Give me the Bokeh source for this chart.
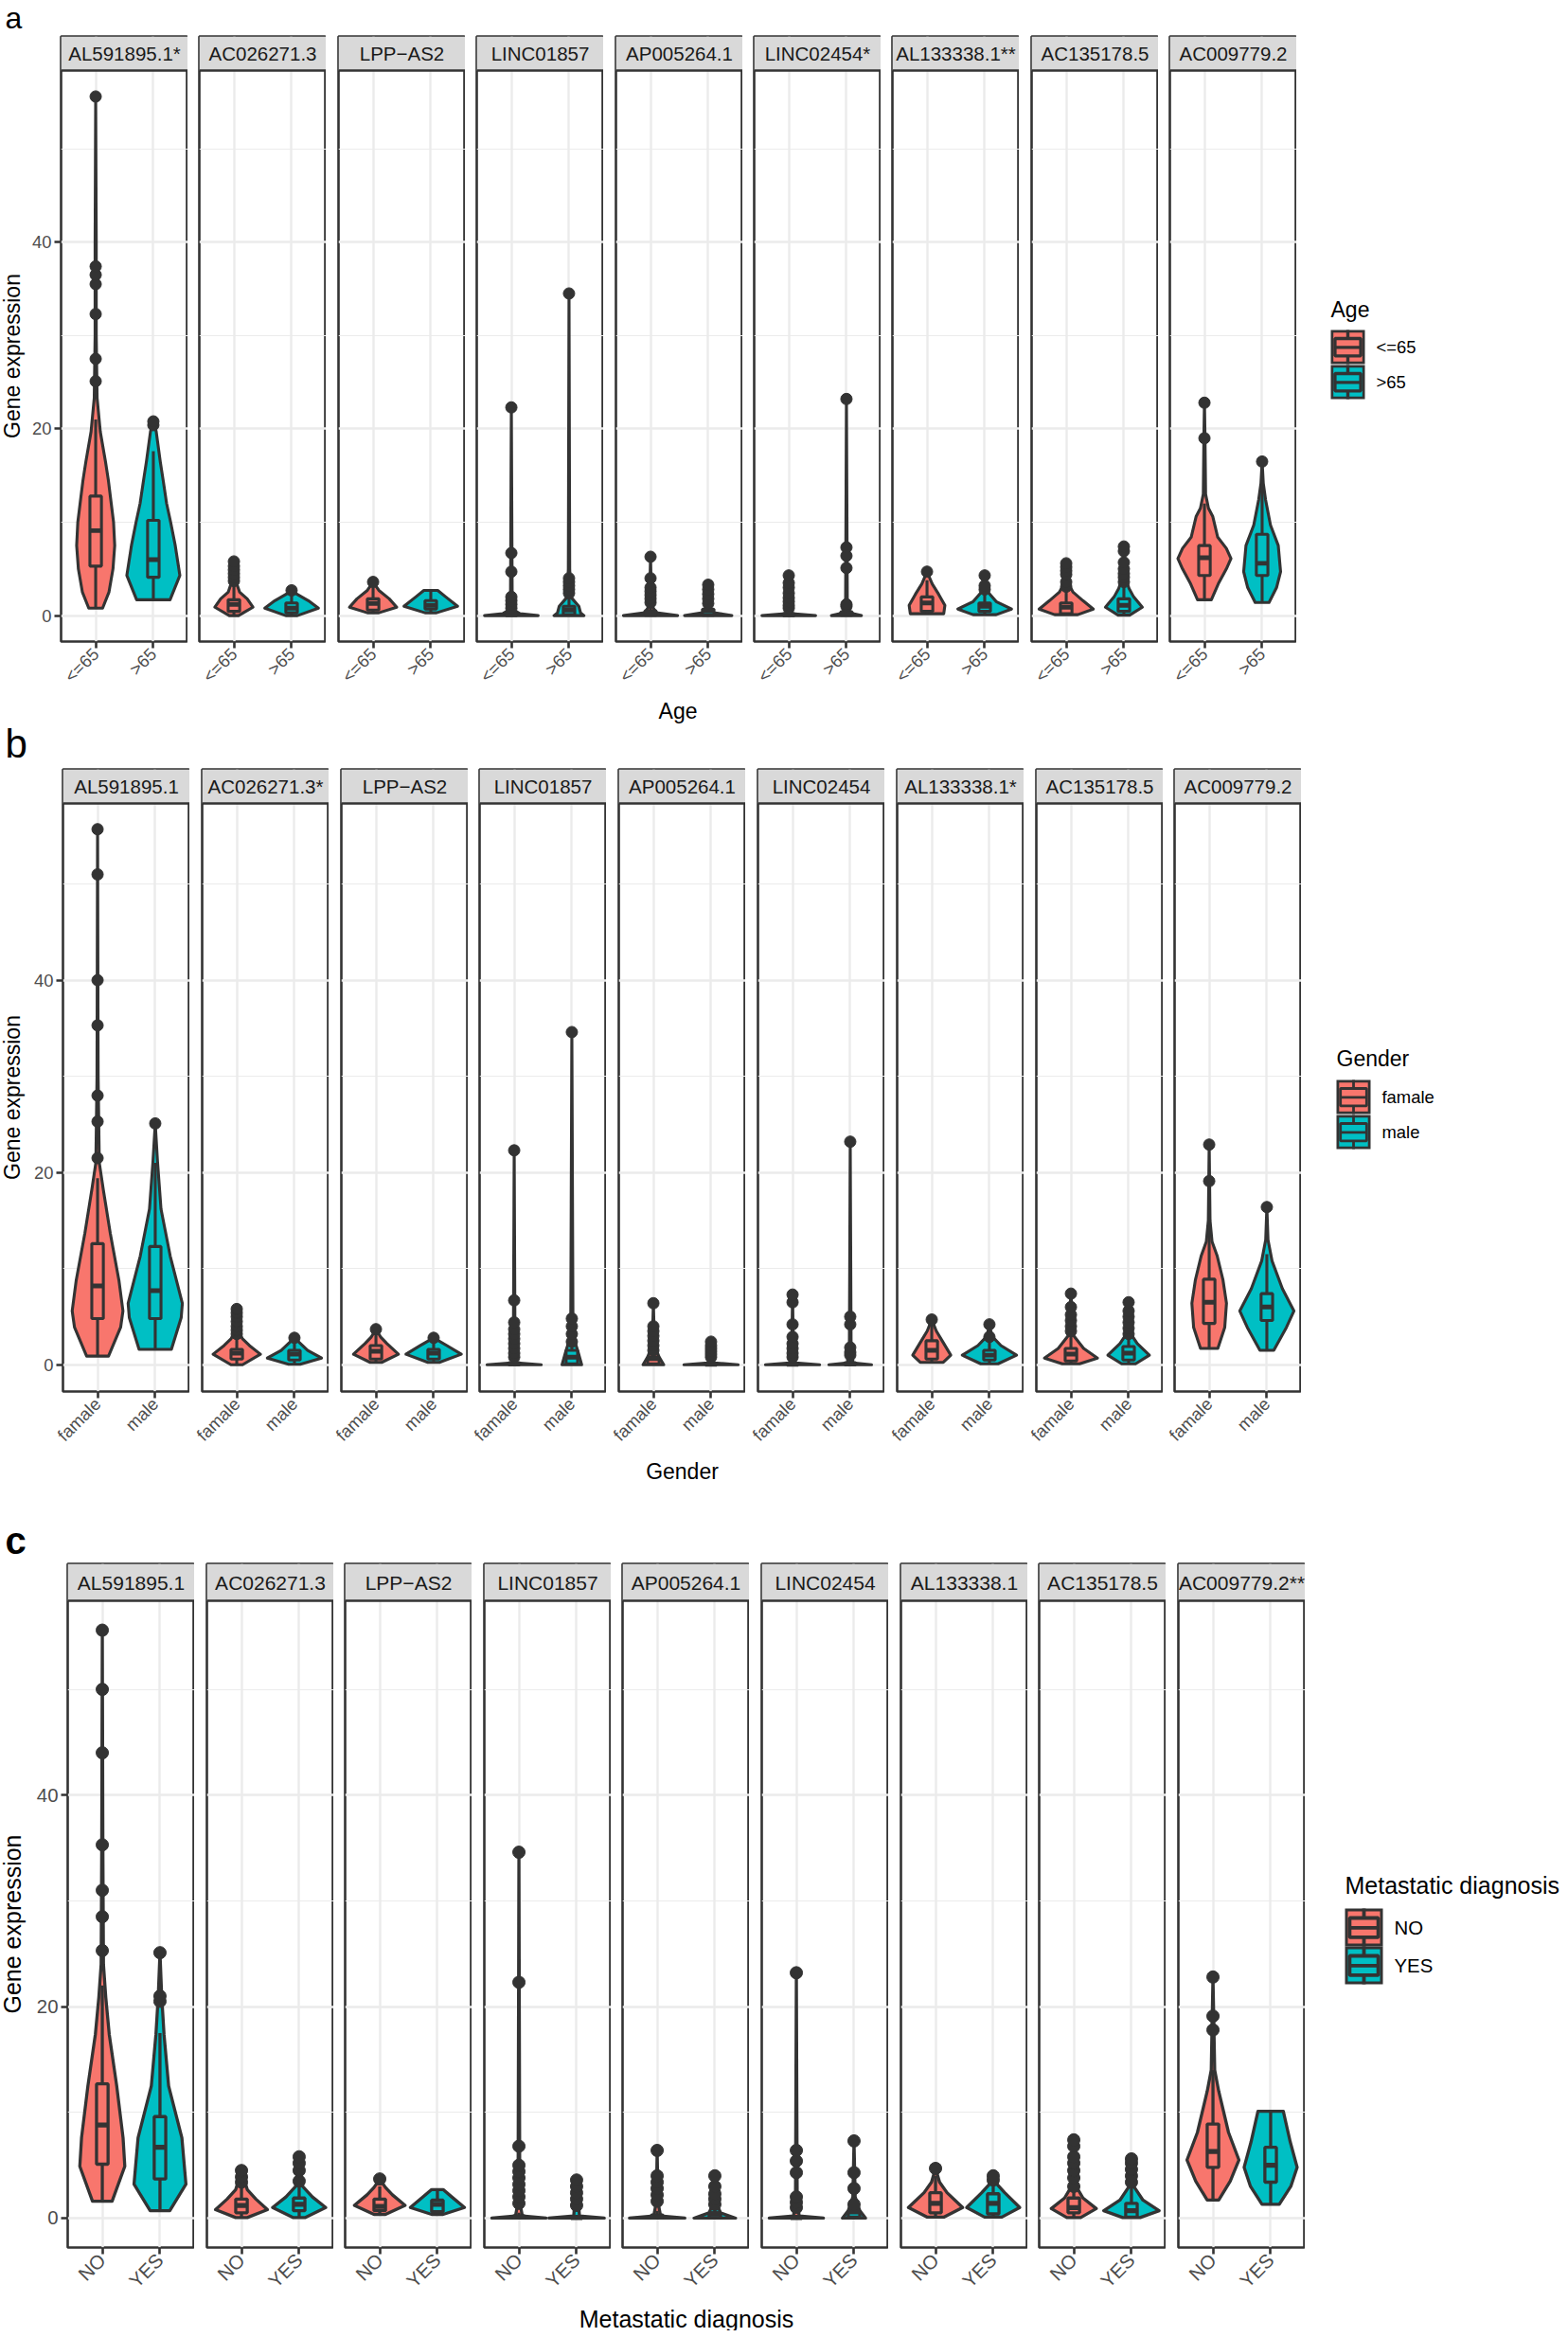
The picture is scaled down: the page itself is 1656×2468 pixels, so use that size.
import math
from bokeh.plotting import figure
from bokeh.layouts import row, column
from bokeh.models import Range1d, FixedTicker
from bokeh.core.properties import value
from bokeh.embed import file_html
from bokeh.resources import INLINE

FONT = "Liberation Sans"
COLORS = ["#F8766D", "#00BFC4"]
DARK = "#333333"
GRID = "#EBEBEB"
STRIP_FILL = "#D9D9D9"

Y_MIN, Y_MAX = -2.78, 58.38
Y_TICKS = [0, 20, 40]
Y_MINOR = [10, 30, 50]
X_POS = [1, 2]
BOX_HALF = 0.1

# ---------------- panel a : Age ----------------
AGE_GENES = ["AL591895.1*", "AC026271.3", "LPP\u2212AS2", "LINC01857", "AP005264.1",
             "LINC02454*", "AL133338.1**", "AC135178.5", "AC009779.2"]
AGE_GROUPS = ["<=65", ">65"]
AGE_VIOLIN_Y = [
    [[0.8, 2.5, 5, 7.5, 10, 12, 14.5, 16.5, 19.7, 23.3, 30, 40, 55.6], [1.7, 4.3, 7.5, 10, 12, 14.5, 16.5, 19.7, 21.0]],
    [[0.0, 0.9, 1.8, 2.5, 3.4, 5.8], [0.0, 0.8, 1.6, 2.3, 2.7]],
    [[0.3, 0.9, 1.8, 2.7, 3.6], [0.3, 1.0, 2.0, 2.7]],
    [[0.0, 0.2, 0.6, 1.5, 22.3], [0.0, 0.3, 1.0, 2.0, 5.0, 34.5]],
    [[0.0, 0.3, 1.0, 3.0, 6.3], [0.0, 0.3, 1.0, 3.3]],
    [[0.0, 0.2, 1.0, 4.3], [0.0, 0.3, 1.5, 23.2]],
    [[0.2, 1.1, 2.3, 3.4, 4.7], [0.1, 0.7, 1.5, 2.5, 3.4, 4.3]],
    [[0.1, 0.7, 1.6, 2.5, 3.5, 5.6], [0.05, 0.9, 2.0, 2.9, 4.0, 7.4]],
    [[1.7, 3.4, 5.0, 6.1, 7.2, 8.4, 10.6, 11.5, 13, 19, 22.8], [1.4, 3.0, 4.7, 7.5, 9.7, 12.4, 14.2, 16.5]],
]
AGE_VIOLIN_W = [
    [[0.12, 0.23, 0.3, 0.33, 0.31, 0.27, 0.22, 0.17, 0.08, 0.025, 0.01, 0.01, 0], [0.29, 0.46, 0.38, 0.3, 0.23, 0.17, 0.12, 0.05, 0]],
    [[0.08, 0.33, 0.23, 0.1, 0.05, 0], [0.1, 0.465, 0.29, 0.09, 0]],
    [[0.1, 0.41, 0.28, 0.1, 0], [0.1, 0.465, 0.26, 0.12]],
    [[0.465, 0.15, 0.04, 0.015, 0], [0.26, 0.2, 0.17, 0.03, 0.012, 0]],
    [[0.47, 0.1, 0.03, 0.012, 0], [0.41, 0.1, 0.03, 0]],
    [[0.465, 0.06, 0.02, 0], [0.26, 0.06, 0.015, 0]],
    [[0.29, 0.31, 0.2, 0.09, 0], [0.2, 0.465, 0.2, 0.06, 0.02, 0]],
    [[0.2, 0.47, 0.29, 0.12, 0.03, 0], [0.1, 0.32, 0.17, 0.09, 0.03, 0]],
    [[0.12, 0.24, 0.38, 0.46, 0.38, 0.23, 0.145, 0.07, 0.02, 0.01, 0], [0.12, 0.25, 0.32, 0.28, 0.145, 0.06, 0.02, 0]],
]
AGE_BOX = [  # [lower whisker, q1, median, q3, upper whisker]
    [[0.8, 5.3, 9.1, 12.8, 21.0], [1.7, 4.1, 6.0, 10.2, 17.6]],
    [[0.05, 0.45, 1.2, 1.7, 3.4], [0.05, 0.3, 0.8, 1.35, 2.2]],
    [[0.3, 0.6, 1.3, 1.8, 3.0], [0.3, 0.7, 1.1, 1.6, 2.7]],
    [[0.0, 0.05, 0.12, 0.3, 0.6], [0.0, 0.1, 0.6, 1.0, 2.2]],
    [[0.0, 0.05, 0.3, 0.5, 1.0], [0.0, 0.05, 0.5, 0.7, 1.1]],
    [[0.0, 0.02, 0.1, 0.2, 0.5], [0.0, 0.03, 0.2, 0.4, 0.8]],
    [[0.2, 0.45, 1.35, 2.0, 3.8], [0.1, 0.45, 1.0, 1.35, 2.5]],
    [[0.1, 0.2, 0.9, 1.35, 2.9], [0.05, 0.45, 1.1, 1.8, 3.3]],
    [[1.7, 4.3, 6.2, 7.5, 12.0], [1.4, 4.3, 5.6, 8.7, 14.5]],
]
AGE_OUTLIERS = [
    [[25.1, 27.5, 32.3, 35.5, 36.5, 37.4, 55.6], [20.4, 20.8]],
    [[3.7, 4.1, 4.5, 4.9, 5.3, 5.8], [2.7]],
    [[3.6], []],
    [[0.8, 1.2, 1.6, 2.0, 4.7, 6.7, 22.3], [2.4, 2.8, 3.2, 3.6, 4.0, 34.5]],
    [[1.4, 1.8, 2.2, 2.6, 3.0, 4.0, 6.3], [1.3, 1.8, 2.3, 2.8, 3.3]],
    [[0.8, 1.1, 1.5, 1.9, 2.4, 3.0, 3.5, 4.3], [1.0, 1.2, 5.1, 6.4, 7.3, 23.2]],
    [[4.7], [2.8, 3.2, 4.3]],
    [[3.1, 3.6, 4.4, 4.8, 5.2, 5.6], [3.6, 4.1, 4.5, 5.0, 5.7, 6.9, 7.4]],
    [[19.0, 22.8], [16.5]],
]

# ---------------- panel b : Gender ----------------
GENDER_GENES = ["AL591895.1", "AC026271.3*", "LPP\u2212AS2", "LINC01857", "AP005264.1",
                "LINC02454", "AL133338.1*", "AC135178.5", "AC009779.2"]
GENDER_GROUPS = ["famale", "male"]
GENDER_VIOLIN_Y = [
    [[0.9, 3.9, 5.6, 8.8, 13.7, 18.2, 21, 30, 55.7], [1.6, 4.9, 6.4, 11.3, 16.2, 21.1, 25.1]],
    [[0.0, 1.1, 2.0, 2.7, 3.5, 5.8], [0.05, 0.7, 1.5, 2.8]],
    [[0.25, 1.1, 2.2, 2.9, 3.7], [0.25, 1.1, 2.0, 2.8]],
    [[0.0, 0.2, 1.0, 22.3], [0.0, 1.5, 3.0, 34.6]],
    [[0.0, 0.8, 2.0, 6.4], [0.0, 0.2, 2.4]],
    [[0.0, 0.2, 1.5, 7.3], [0.0, 0.2, 2.0, 23.2]],
    [[0.25, 1.0, 2.5, 3.5, 4.7], [0.1, 1.0, 2.0, 3.0, 4.2]],
    [[0.1, 0.7, 1.7, 3.0, 7.4], [0.1, 1.0, 2.2, 3.2, 6.5]],
    [[1.7, 3.9, 6.4, 8.8, 11.3, 12.8, 15, 22.9], [1.5, 3.9, 5.6, 7.9, 10.8, 13, 16.4]],
]
GENDER_VIOLIN_W = [
    [[0.19, 0.4, 0.44, 0.37, 0.22, 0.1, 0.03, 0.01, 0], [0.28, 0.45, 0.47, 0.26, 0.1, 0.04, 0]],
    [[0.1, 0.41, 0.22, 0.1, 0.03, 0], [0.1, 0.47, 0.23, 0]],
    [[0.1, 0.39, 0.19, 0.08, 0], [0.1, 0.48, 0.23, 0]],
    [[0.47, 0.05, 0.015, 0], [0.17, 0.1, 0.02, 0]],
    [[0.18, 0.1, 0.02, 0], [0.47, 0.05, 0]],
    [[0.47, 0.05, 0.015, 0], [0.37, 0.05, 0.015, 0]],
    [[0.2, 0.33, 0.18, 0.08, 0], [0.15, 0.47, 0.2, 0.04, 0]],
    [[0.15, 0.46, 0.22, 0.05, 0], [0.12, 0.36, 0.15, 0.04, 0]],
    [[0.15, 0.27, 0.3, 0.24, 0.14, 0.05, 0.015, 0], [0.12, 0.34, 0.47, 0.27, 0.09, 0.02, 0]],
]
GENDER_BOX = [
    [[0.9, 4.8, 8.2, 12.6, 19.4], [1.6, 4.8, 7.7, 12.3, 21.0]],
    [[0.0, 0.6, 1.2, 1.6, 2.9], [0.05, 0.5, 1.1, 1.5, 2.3]],
    [[0.25, 0.6, 1.4, 2.0, 3.2], [0.25, 0.6, 1.2, 1.6, 2.5]],
    [[0.0, 0.02, 0.1, 0.2, 0.5], [0.0, 0.1, 0.8, 1.5, 2.0]],
    [[0.0, 0.1, 0.64, 0.8, 1.3], [0.0, 0.02, 0.05, 0.1, 0.3]],
    [[0.0, 0.02, 0.05, 0.1, 0.3], [0.0, 0.02, 0.1, 0.2, 0.5]],
    [[0.25, 0.6, 1.5, 2.5, 4.2], [0.1, 0.5, 1.0, 1.5, 2.6]],
    [[0.1, 0.4, 1.1, 1.7, 3.2], [0.1, 0.5, 1.2, 1.9, 3.0]],
    [[1.7, 4.3, 6.5, 8.9, 15.0], [1.5, 4.6, 6.0, 7.4, 11.5]],
]
GENDER_OUTLIERS = [
    [[21.5, 25.3, 28.0, 35.3, 40.0, 51.0, 55.7], [25.1]],
    [[3.2, 3.6, 4.0, 4.5, 5.0, 5.4, 5.8], [2.8]],
    [[3.7], [2.8]],
    [[0.8, 1.2, 1.7, 2.2, 2.7, 3.2, 3.7, 4.4, 6.7, 22.3], [2.4, 3.2, 4.0, 4.8, 34.6]],
    [[1.5, 2.0, 2.5, 3.0, 3.5, 4.0, 6.4], [0.8, 1.1, 1.4, 1.7, 2.0, 2.4]],
    [[0.8, 1.2, 1.7, 2.2, 2.9, 4.2, 6.5, 7.3], [1.0, 1.3, 1.8, 4.2, 5.0, 23.2]],
    [[4.7], [2.9, 4.2]],
    [[3.5, 4.0, 4.6, 5.2, 6.0, 7.4], [3.2, 3.8, 4.4, 5.0, 5.6, 6.5]],
    [[19.1, 22.9], [16.4]],
]

# ---------------- panel c : Metastatic diagnosis ----------------
META_GENES = ["AL591895.1", "AC026271.3", "LPP\u2212AS2", "LINC01857", "AP005264.1",
              "LINC02454", "AL133338.1", "AC135178.5", "AC009779.2**"]
META_GROUPS = ["NO", "YES"]
META_VIOLIN_Y = [
    [[1.6, 4.9, 7.6, 12.5, 17.4, 20.9, 24, 35, 55.6], [0.7, 3.2, 7.6, 12.5, 17.4, 21, 25.1]],
    [[0.05, 0.8, 1.8, 2.7, 4.5], [0.05, 1.0, 2.0, 3.0, 5.8]],
    [[0.35, 1.2, 2.2, 2.9, 3.7], [0.35, 1.0, 2.0, 2.7]],
    [[0.0, 0.2, 1.5, 34.6], [0.0, 0.2, 3.6]],
    [[0.0, 0.2, 1.5, 6.4], [0.0, 0.5, 1.5, 4.0]],
    [[0.0, 0.2, 1.5, 23.2], [0.0, 0.7, 2.0, 7.3]],
    [[0.1, 1.0, 2.4, 3.4, 4.7], [0.1, 1.0, 2.4, 3.3, 4.0]],
    [[0.05, 0.9, 1.9, 3.0, 7.4], [0.05, 0.7, 1.7, 3.0, 5.6]],
    [[1.7, 3.5, 5.5, 8.1, 12.0, 14, 22.8], [1.3, 3.0, 4.8, 7.2, 10.1]],
]
META_VIOLIN_W = [
    [[0.17, 0.39, 0.36, 0.25, 0.12, 0.06, 0.02, 0.01, 0], [0.17, 0.45, 0.38, 0.15, 0.07, 0.03, 0]],
    [[0.1, 0.45, 0.25, 0.1, 0], [0.1, 0.46, 0.23, 0.06, 0]],
    [[0.1, 0.44, 0.22, 0.1, 0], [0.1, 0.47, 0.25, 0.1]],
    [[0.47, 0.06, 0.015, 0], [0.48, 0.05, 0]],
    [[0.48, 0.06, 0.015, 0], [0.36, 0.1, 0.02, 0]],
    [[0.47, 0.05, 0.015, 0], [0.2, 0.1, 0.02, 0]],
    [[0.15, 0.47, 0.2, 0.07, 0], [0.15, 0.46, 0.2, 0.05, 0]],
    [[0.12, 0.39, 0.16, 0.04, 0], [0.15, 0.48, 0.2, 0.04, 0]],
    [[0.1, 0.3, 0.45, 0.27, 0.1, 0.03, 0], [0.15, 0.35, 0.46, 0.34, 0.22]],
]
META_BOX = [
    [[1.6, 5.1, 8.8, 12.7, 22.0], [0.7, 3.7, 6.7, 9.6, 17.5]],
    [[0.05, 0.5, 1.2, 1.8, 3.2], [0.05, 0.7, 1.3, 1.9, 3.0]],
    [[0.35, 0.7, 1.1, 1.8, 3.0], [0.35, 0.6, 1.3, 1.7, 2.7]],
    [[0.0, 0.02, 0.1, 0.2, 0.5], [0.0, 0.02, 0.05, 0.1, 0.3]],
    [[0.0, 0.02, 0.1, 0.3, 0.7], [0.0, 0.05, 0.4, 0.5, 1.0]],
    [[0.0, 0.02, 0.05, 0.1, 0.3], [0.0, 0.1, 0.6, 0.7, 1.0]],
    [[0.1, 0.5, 1.4, 2.4, 4.0], [0.1, 0.4, 1.4, 2.3, 3.3]],
    [[0.05, 0.5, 1.0, 1.9, 2.8], [0.05, 0.1, 0.7, 1.4, 3.0]],
    [[1.7, 4.8, 6.3, 8.9, 14.0], [1.3, 3.4, 5.0, 6.7, 10.1]],
]
META_OUTLIERS = [
    [[25.3, 28.5, 31.0, 35.3, 44.0, 50.0, 55.6], [20.5, 21.0, 25.1]],
    [[3.4, 3.9, 4.5], [3.5, 4.5, 5.2, 5.8]],
    [[3.7], []],
    [[1.4, 2.0, 2.6, 3.2, 3.8, 4.4, 5.0, 6.8, 22.3, 34.6], [1.2, 1.8, 2.4, 3.0, 3.6]],
    [[1.6, 2.2, 2.8, 3.4, 4.0, 6.4], [1.3, 1.8, 2.3, 3.0, 4.0]],
    [[1.0, 1.5, 2.0, 4.3, 5.4, 6.4, 23.2], [1.3, 2.8, 4.3, 7.3]],
    [[4.7], [3.6, 4.0]],
    [[3.0, 3.8, 4.5, 5.2, 5.8, 6.8, 7.4], [3.4, 4.0, 4.6, 5.2, 5.6]],
    [[17.8, 19.1, 22.8], []],
]

# ---------------- layout settings (pixels) ----------------
# page = header("a") / row a / footer (Age + "b") / row b / footer (Gender + "c") / row c / footer
HEADER_H = 36
CFG_A = dict(top=2, fh=639, strip=36, bottom=60, foot=73, foot_y=13, side=31, x0=63.0, pitch=146.4,
             fw=134, total=1650, fs_text=18.4, fs_strip=20.5, fs_title=23, lw=3.1, pt=12,
             leg_x=36, leg_title_y=326, leg_keys=[348, 385], key_s=36, key_tb=2.7,
             key_t=3.4, leg_lab_x=84, title="Age",
             next_letter="b", next_size=42, next_style="normal", next_mid_from_bottom=25)
CFG_B = dict(top=2, fh=657, strip=36, bottom=72, foot=108, foot_y=12, side=31, x0=66.0, pitch=146.8,
             fw=134, total=1650, fs_text=18.4, fs_strip=20.5, fs_title=23, lw=3.1, pt=12,
             leg_x=37, leg_title_y=1117, leg_keys=[1140, 1177], key_s=36, key_tb=2.8,
             key_t=2.8, leg_lab_x=85, title="Gender",
             next_letter="c", next_size=40, next_style="bold", next_mid_from_bottom=23)
CFG_C = dict(top=2, fh=722, strip=39, bottom=62, foot=26, foot_y=13, side=31, x0=71.0, pitch=146.6,
             fw=134, total=1650, fs_text=20.4, fs_strip=21, fs_title=25, lw=3.3, pt=13,
             leg_x=42, leg_title_y=1990, leg_keys=[2015, 2055], key_s=40, key_tb=3.0,
             key_t=3.8, leg_lab_x=94, title="Metastatic diagnosis",
             next_letter=None, next_size=0, next_style="normal", next_mid_from_bottom=0)


def blank(width, height, y_range):
    f = figure(width=width, height=height, x_range=Range1d(0, width), y_range=y_range,
               x_axis_location=None, y_axis_location=None, min_border=0,
               min_border_left=0, min_border_right=0, min_border_top=0, min_border_bottom=0,
               output_backend="svg", toolbar_location=None)
    f.grid.visible = False
    f.outline_line_color = None
    return f


def letter(fig, txt, size, style, y_mid):
    fig.text(x=[5], y=[y_mid], text=[txt], text_font=value(FONT), text_font_size=f"{size}px",
             text_font_style=style, text_baseline="middle", text_align="left", text_color="black")


def facet(cfg, gene, groups, vy, vw, bx, outl, first, left_border):
    strip, fh = cfg["strip"], cfg["fh"]
    u = (Y_MAX - Y_MIN) / (fh - strip)
    ytop = Y_MAX + strip * u
    p = figure(frame_width=cfg["fw"], frame_height=fh,
               x_range=Range1d(0.4, 2.6), y_range=Range1d(Y_MIN, ytop),
               y_axis_location="left" if first else None,
               min_border_left=left_border, min_border_right=0,
               min_border_top=cfg["top"], min_border_bottom=cfg["bottom"],
               output_backend="svg", toolbar_location=None)
    p.outline_line_color = DARK
    p.outline_line_width = 2.6
    p.xgrid.ticker = FixedTicker(ticks=X_POS)
    p.xgrid.grid_line_color = GRID
    p.xgrid.grid_line_width = 2.4
    p.ygrid.ticker = FixedTicker(ticks=Y_TICKS, minor_ticks=Y_MINOR)
    p.ygrid.grid_line_color = GRID
    p.ygrid.grid_line_width = 2.4
    p.ygrid.minor_grid_line_color = GRID
    p.ygrid.minor_grid_line_width = 1.2

    lw = cfg["lw"]
    for k in range(2):
        c = X_POS[k]
        col = COLORS[k]
        ys, ws = vy[k], vw[k]
        px = [c + w for w in ws] + [c - w for w in reversed(ws)]
        py = list(ys) + list(reversed(ys))
        p.patch(px, py, fill_color=col, line_color=DARK, line_width=lw, line_join="round")
        lo, q1, md, q3, hi = bx[k]
        p.segment(x0=[c, c], y0=[lo, q3], x1=[c, c], y1=[q1, hi], line_color=DARK, line_width=lw)
        p.quad(left=[c - BOX_HALF], right=[c + BOX_HALF], bottom=[q1], top=[q3],
               fill_color=col, line_color=DARK, line_width=lw)
        p.segment(x0=[c - BOX_HALF], y0=[md], x1=[c + BOX_HALF], y1=[md], line_color=DARK,
                  line_width=lw * 1.6)
        if outl[k]:
            p.scatter(x=[c] * len(outl[k]), y=outl[k], size=cfg["pt"], fill_color=DARK, line_color=DARK)

    # strip
    p.quad(left=[0.4], right=[2.6], bottom=[Y_MAX], top=[ytop], fill_color=STRIP_FILL, line_color=None)
    p.segment(x0=[0.4], x1=[2.6], y0=[Y_MAX], y1=[Y_MAX], line_color=DARK, line_width=2.6)
    p.text(x=[1.5], y=[(Y_MAX + ytop) / 2], text=[gene], text_font=value(FONT),
           text_font_size=f"{cfg['fs_strip']}px", text_align="center", text_baseline="middle",
           text_color="#1A1A1A")

    xa = p.xaxis[0]
    xa.ticker = FixedTicker(ticks=X_POS)
    xa.major_label_overrides = {1: groups[0], 2: groups[1]}
    xa.axis_line_color = None
    xa.major_tick_line_color = DARK
    xa.major_tick_line_width = 2.6
    xa.major_tick_out = 7
    xa.major_tick_in = 0
    xa.minor_tick_line_color = None
    xa.major_label_text_font = FONT
    xa.major_label_text_font_size = f"{cfg['fs_text']}px"
    xa.major_label_text_color = "#4D4D4D"
    xa.major_label_orientation = math.pi / 4
    xa.major_label_standoff = 3
    if first:
        ya = p.yaxis[0]
        ya.ticker = FixedTicker(ticks=Y_TICKS)
        ya.axis_line_color = None
        ya.major_tick_line_color = DARK
        ya.major_tick_line_width = 2.6
        ya.major_tick_out = 7
        ya.major_tick_in = 0
        ya.minor_tick_line_color = None
        ya.major_label_text_font = FONT
        ya.major_label_text_font_size = f"{cfg['fs_text']}px"
        ya.major_label_text_color = "#4D4D4D"
        ya.major_label_standoff = 3
    return p


def frame_range(cfg):
    # frames of all plots in a row are aligned: map (negated) row pixels onto the frame
    return Range1d(-(cfg["top"] + cfg["fh"]), -cfg["top"])


def side_fig(cfg, H):
    s = blank(cfg["side"], H, frame_range(cfg))
    yc = cfg["top"] + cfg["strip"] + (cfg["fh"] - cfg["strip"]) / 2
    s.text(x=[12.5], y=[-yc], text=["Gene expression"], angle=math.pi / 2, text_font=value(FONT),
           text_font_size=f"{cfg['fs_title']}px", text_align="center", text_baseline="middle",
           text_color="black")
    return s


def legend_fig(cfg, W, H, groups, row_start):
    lg = blank(W, H, frame_range(cfg))
    x0 = cfg["leg_x"]
    lg.text(x=[x0], y=[-(cfg["leg_title_y"] - row_start)], text=[cfg["title"]], text_font=value(FONT),
            text_font_size=f"{cfg['fs_title']}px", text_align="left", text_baseline="middle",
            text_color="black")
    s, tb, t = cfg["key_s"], cfg["key_tb"], cfg["key_t"]
    for k, ypage in enumerate(cfg["leg_keys"]):
        ytop = ypage - row_start
        col = COLORS[k]
        lg.quad(left=[x0], right=[x0 + s], top=[-ytop], bottom=[-(ytop + s)], fill_color=DARK,
                line_color=None)
        lg.quad(left=[x0 + tb], right=[x0 + s - tb], top=[-(ytop + tb)], bottom=[-(ytop + s - tb)],
                fill_color=col, line_color=None)
        bl, br = x0 + tb + t / 2, x0 + s - tb - t / 2
        bt, bb, md = ytop + 0.25 * s, ytop + 0.76 * s, ytop + 0.51 * s
        lg.quad(left=[bl], right=[br], top=[-bt], bottom=[-bb], fill_color=None, line_color=DARK,
                line_width=t)
        cx = x0 + s / 2
        lg.segment(x0=[bl, cx, cx], x1=[br, cx, cx], y0=[-md, -ytop, -bb],
                   y1=[-md, -bt, -(ytop + s)], line_color=DARK, line_width=t)
        lg.text(x=[cfg["leg_lab_x"]], y=[-(ytop + s / 2)], text=[groups[k]], text_font=value(FONT),
                text_font_size=f"{cfg['fs_text']}px", text_align="left", text_baseline="middle",
                text_color="black")
    return lg


def build_row(cfg, genes, groups, VY, VW, BX, OUT, row_start):
    H = cfg["top"] + cfg["fh"] + cfg["bottom"]
    figs = [side_fig(cfg, H)]
    lefts = [round(cfg["x0"] + i * cfg["pitch"]) for i in range(9)]
    prev_right = cfg["side"]
    for i in range(9):
        border = lefts[i] - prev_right
        figs.append(facet(cfg, genes[i], groups, VY[i], VW[i], BX[i], OUT[i], i == 0, border))
        prev_right = lefts[i] + cfg["fw"]
    figs.append(legend_fig(cfg, cfg["total"] - prev_right, H, groups, row_start))
    ft = blank(prev_right, cfg["foot"], Range1d(0, cfg["foot"]))
    xc = (lefts[0] + prev_right) / 2
    ft.text(x=[xc], y=[cfg["foot"] - cfg["foot_y"]], text=[cfg["title"]], text_font=value(FONT),
            text_font_size=f"{cfg['fs_title']}px", text_align="center", text_baseline="middle",
            text_color="black")
    if cfg["next_letter"]:
        letter(ft, cfg["next_letter"], cfg["next_size"], cfg["next_style"], cfg["next_mid_from_bottom"])
    return [row(*figs), ft], row_start + H + cfg["foot"]


header = blank(200, HEADER_H, Range1d(0, HEADER_H))
letter(header, "a", 32, "normal", HEADER_H / 2)

parts_a, start_b = build_row(CFG_A, AGE_GENES, AGE_GROUPS, AGE_VIOLIN_Y, AGE_VIOLIN_W, AGE_BOX,
                             AGE_OUTLIERS, HEADER_H)
parts_b, start_c = build_row(CFG_B, GENDER_GENES, GENDER_GROUPS, GENDER_VIOLIN_Y, GENDER_VIOLIN_W,
                             GENDER_BOX, GENDER_OUTLIERS, start_b)
parts_c, _ = build_row(CFG_C, META_GENES, META_GROUPS, META_VIOLIN_Y, META_VIOLIN_W, META_BOX,
                       META_OUTLIERS, start_c)

page = column(header, *parts_a, *parts_b, *parts_c)

open("out.html", "w").write(file_html(page, INLINE))
